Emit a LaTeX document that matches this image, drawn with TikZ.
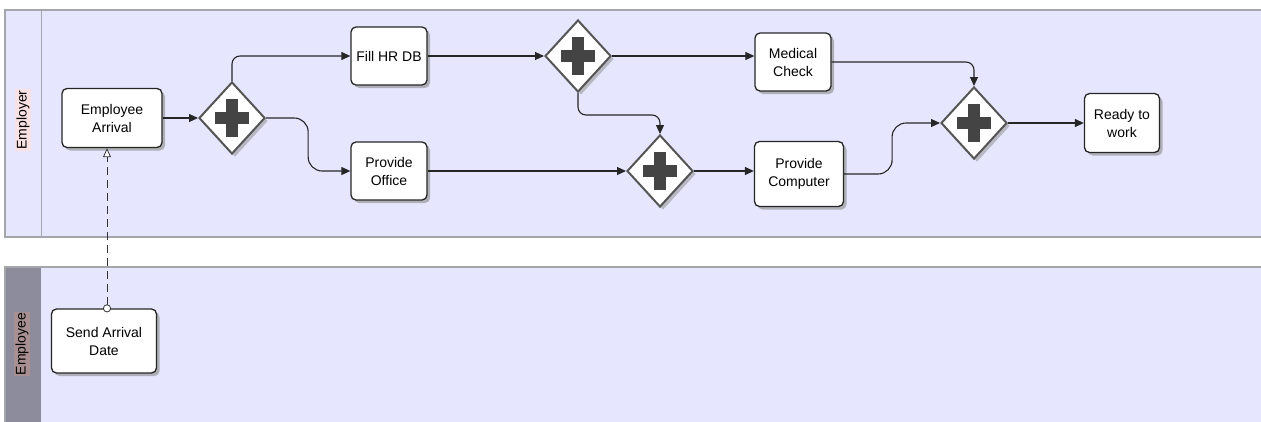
\documentclass[tikz,border=0pt]{standalone}
\usepackage{fontspec}
\setmainfont{Liberation Sans}
\usetikzlibrary{positioning,shapes.geometric,shadows,arrows.meta,calc}

\definecolor{lanefill}{RGB}{230,231,255}
\definecolor{laneline}{RGB}{165,165,172}
\definecolor{headgray}{RGB}{140,140,156}
\definecolor{employerbg}{RGB}{250,226,228}
\definecolor{employeebg}{RGB}{168,144,146}
\definecolor{plusgray}{RGB}{68,68,68}
\definecolor{edgegray}{RGB}{85,85,85}

\begin{document}
\begin{tikzpicture}[x=1pt, y=-1pt,
    task/.style={draw=black!85, line width=1.3pt, fill=white, rounded corners=5pt,
        align=center, font=\fontsize{14}{18}\selectfont,
        minimum width=76pt, minimum height=58pt, inner sep=2pt,
        drop shadow={shadow xshift=3pt, shadow yshift=-3pt, fill=black!40, opacity=.7}},
    gate/.style={diamond, draw=edgegray, line width=2pt, fill=white,
        minimum width=66pt, minimum height=72pt, inner sep=0pt,
        drop shadow={shadow xshift=3pt, shadow yshift=-3pt, fill=black!40, opacity=.6},
        path picture={
            \fill[plusgray] ([xshift=-6pt,yshift=-19pt]path picture bounding box.center)
                rectangle ([xshift=6pt,yshift=19pt]path picture bounding box.center);
            \fill[plusgray] ([xshift=-17pt,yshift=-6pt]path picture bounding box.center)
                rectangle ([xshift=17pt,yshift=6pt]path picture bounding box.center);}},
    flow/.style={-{Triangle[length=9pt,width=8pt]}, draw=black!85, line width=1.1pt, rounded corners=8pt},
    msg/.style={draw=black!80, line width=0.8pt, dash pattern=on 8pt off 5pt,
        {Circle[length=8pt,width=8pt,fill=white]}-{Triangle[open,length=9pt,width=8pt,fill=white]}},
    lanehead/.style={rotate=90, font=\fontsize{14}{16}\selectfont, inner sep=1pt}
]
\useasboundingbox (0,0) rectangle (1261,421);

% Lanes
\fill[lanefill] (5,10) rectangle (1262,237);
\draw[laneline, line width=1.5pt] (1262,10) -- (5,10) -- (5,237) -- (1262,237);
\draw[laneline, line width=0.8pt] (41,10) -- (41,237);
\node[lanehead, fill=employerbg] (employer) at (23,120) {Employer};

\fill[lanefill] (5,267) rectangle (1262,422);
\fill[headgray] (5,267) rectangle (41,422);
\draw[laneline, line width=1.5pt] (1262,267) -- (5,267) -- (5,422);
\node[lanehead, fill=employeebg] (employee) at (22,344) {Employee};

% Tasks
\node[task, minimum width=100pt, minimum height=59pt] (arrival) at (112,118) {Employee\\Arrival};
\node[task, minimum width=105pt, minimum height=64pt] (senddate) at (104,341) {Send Arrival\\Date};
\node[task] (hrdb) at (389,56) {Fill HR DB};
\node[task] (office) at (389,171) {Provide\\Office};
\node[task] (medical) at (793,62) {Medical\\Check};
\node[task, minimum width=89pt, minimum height=65pt] (computer) at (799,174) {Provide\\Computer};
\node[task, minimum width=75pt, minimum height=59pt] (ready) at (1122,123) {Ready to\\work};

% Gateways
\node[gate] (split) at (232,118) {};
\node[gate] (hrsplit) at (578,56) {};
\node[gate] (officejoin) at (660,171) {};
\node[gate] (finaljoin) at (974,123) {};

% Sequence flows
\draw[flow] (arrival.east) -- (split.west);
\draw[flow] (split.north) |- (hrdb.west);
\draw[flow, rounded corners=14pt] (split.east) -| ($(split.east)!.5!(office.west)$) |- (office.west);
\draw[flow] (hrdb.east) -- (hrsplit.west);
\draw[flow] (hrsplit.east) -- (hrsplit.east -| medical.west);
\draw[flow] (hrsplit.south) -- ++(0,22) -| (officejoin.north);
\draw[flow] (office.east) -- (officejoin.west);
\draw[flow] (officejoin.east) -- (officejoin.east -| computer.west);
\draw[flow, rounded corners=14pt] (computer.east) -| ($(computer.east)!.5!(finaljoin.west)$) |- (finaljoin.west);
\draw[flow] (medical.east) -| (finaljoin.north);
\draw[flow] (finaljoin.east) -- (ready.west);

% Message flow
\coordinate (msgx) at (107,0);
\draw[msg, shorten <=-4pt] (senddate.north -| msgx) -- (arrival.south -| msgx);

\end{tikzpicture}
\end{document}
